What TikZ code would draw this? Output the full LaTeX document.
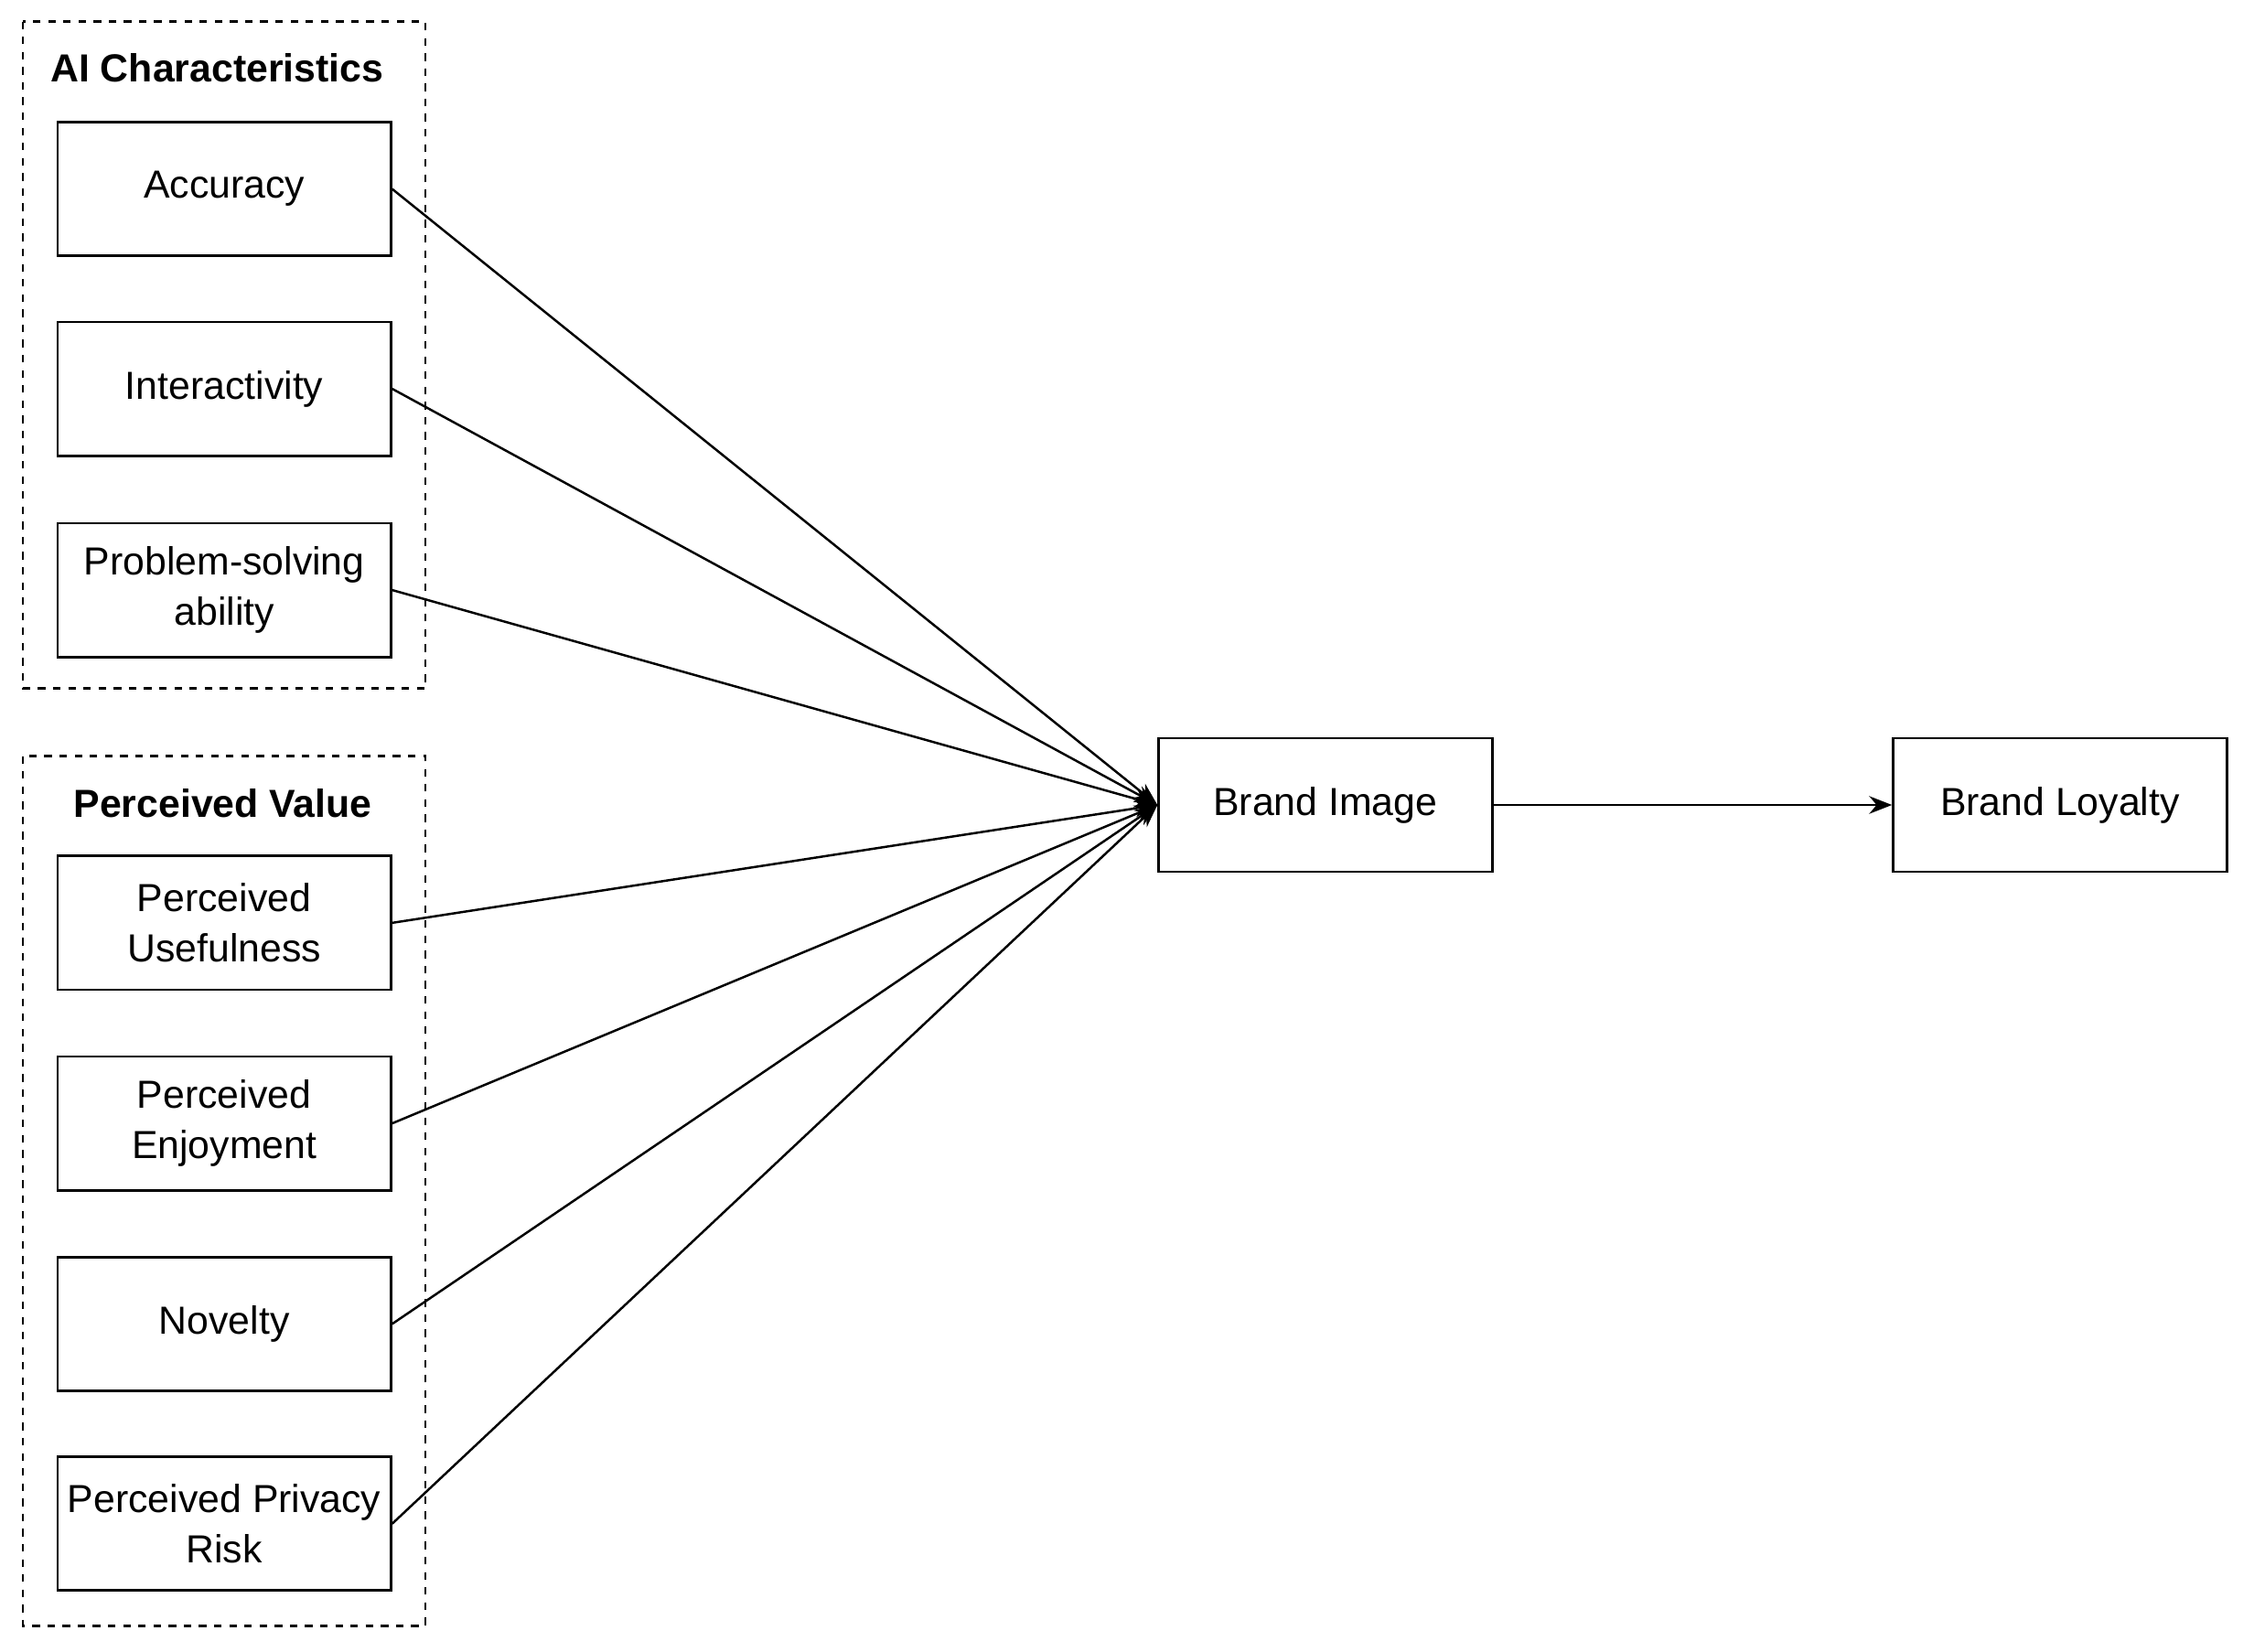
\documentclass[tikz,border=0pt]{standalone}
\usepackage{fontspec}
\setmainfont{Liberation Sans}
\usetikzlibrary{arrows.meta}
\begin{document}
\begin{tikzpicture}[x=0.02cm,y=-0.02cm,
  box/.style={draw,line width=1pt,minimum width=4.64cm,minimum height=1.86cm,align=center,font=\fontsize{15.5}{20}\selectfont,inner sep=1pt},
  grp/.style={draw,dashed,line width=0.9pt},
  ttl/.style={font=\fontsize{15.5}{20}\selectfont\bfseries},
  conn/.style={line width=0.9pt,-{Stealth[length=9pt,width=7pt]}}]
\useasboundingbox (0,0) rectangle (1568,1149);
\draw[grp] (16,15) rectangle (296,479);
\draw[grp] (16,526) rectangle (296,1131);
\node[ttl] (t1) at (151,47) {AI Characteristics};
\node[ttl] (t2) at (155,559) {Perceived Value};
\node[box] (a) at (156,131.5) {Accuracy};
\node[box] (b) at (156,270.5) {Interactivity};
\node[box] (c) at (156,410.5) {Problem-solving\\ability};
\node[box] (d) at (156,642) {Perceived\\Usefulness};
\node[box] (e) at (156,781.5) {Perceived\\Enjoyment};
\node[box] (f) at (156,921) {Novelty};
\node[box] (g) at (156,1060) {Perceived Privacy\\Risk};
\node[box] (bi) at (922,560) {Brand Image};
\node[box] (bl) at (1433,560) {Brand Loyalty};
\foreach \s in {a,b,c,d,e,f,g} \draw[conn] (\s.east) -- (bi.west);
\draw[conn] (bi) -- (bl);
\end{tikzpicture}
\end{document}
